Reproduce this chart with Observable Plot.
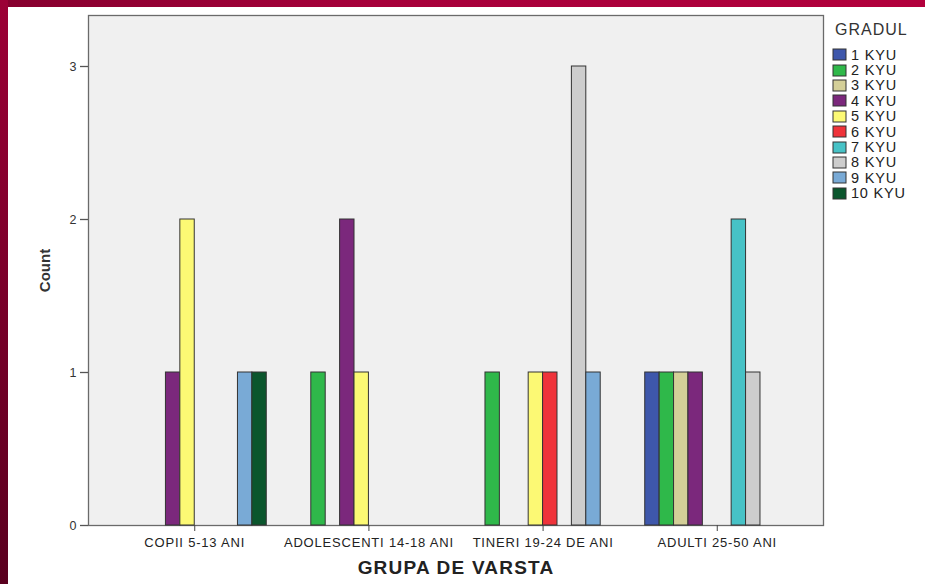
<!DOCTYPE html>
<html>
<head>
<meta charset="utf-8">
<script src="https://cdn.jsdelivr.net/npm/d3@7"></script>
<script src="https://cdn.jsdelivr.net/npm/@observablehq/plot@0.6"></script>
<style>
  html, body { margin: 0; padding: 0; background: #fff; }
  #page { position: relative; width: 925px; height: 584px; overflow: hidden; background: #fff;
          font-family: "Liberation Sans", Arial, sans-serif; }
  #bandTop { position: absolute; left: 0; top: 0; width: 925px; height: 7px;
             background: linear-gradient(to right, #86002e, #a6003a 40%, #b2003c); }
  #bandLeft { position: absolute; left: 0; top: 0; width: 8px; height: 584px;
              background: linear-gradient(to bottom, #9c0036, #7a002a 50%, #5a001f); }
  #chart { position: absolute; left: 0; top: 0; }
  #legend { position: absolute; left: 833px; top: 20px; color: #222; }
  #legendTitle { font-size: 16px; letter-spacing: 1px; color: #333; margin: 0 0 7px 2px; line-height: 20px; }
  .lg-swatches { font-family: "Liberation Sans", Arial, sans-serif !important; font-size: 14.5px !important;
                 margin: 0 !important; min-height: 0 !important; }
  .lg-swatches .lg-swatch { height: 15.4px !important; padding: 0 !important; margin: 0 !important; }
  .lg-swatches .lg-swatch svg { margin-right: 5px !important; overflow: visible; }
  .lg-swatches .lg-swatch svg rect { stroke: #333; stroke-width: 1px; }
  .lg-swatches .lg-swatch-label, .lg-swatches .lg-swatch { letter-spacing: 0.8px; color: #222; }
  g[aria-label="x-axis tick label"] text { letter-spacing: 0.8px; }
  g[aria-label="x-axis label"] text { font-weight: bold; font-size: 19px; letter-spacing: 1.2px; }
  g[aria-label="y-axis label"] text { font-weight: bold; font-size: 15px; }
</style>
</head>
<body>
<div id="page">
  <div id="bandTop"></div>
  <div id="bandLeft"></div>
  <div id="chart"></div>
  <div id="legend"><div id="legendTitle">GRADUL</div><div id="swatches"></div></div>
</div>
<script>
// Categories
const groups = ["COPII 5-13 ANI", "ADOLESCENTI 14-18 ANI", "TINERI 19-24 DE ANI", "ADULTI 25-50 ANI"];
const levels = ["1 KYU", "2 KYU", "3 KYU", "4 KYU", "5 KYU", "6 KYU", "7 KYU", "8 KYU", "9 KYU", "10 KYU"];
const levelColors = ["#3e57ab", "#2fb84a", "#d4cf98", "#7b287c", "#fcf974", "#ef333a", "#47c2c6", "#cdcdcd", "#79aad6", "#0b562d"];
// Counts per KYU level (1..10) for each age group
const copii       = [0, 0, 0, 1, 2, 0, 0, 0, 1, 1];
const adolescenti = [0, 1, 0, 2, 1, 0, 0, 0, 0, 0];
const tineri      = [0, 1, 0, 0, 1, 1, 0, 3, 1, 0];
const adulti      = [1, 1, 1, 1, 0, 0, 2, 1, 0, 0];
const yTicks = [0, 1, 2, 3];

// Layout of the grouped bars (in units of one group step)
const groupPad = 0.11;      // outer padding at both ends of the category axis
const clusterWidth = 0.827; // share of a group step occupied by the 10 bar slots
const slot = clusterWidth / levels.length;

const series = [copii, adolescenti, tineri, adulti];
const data = [];
groups.forEach((g, gi) => {
  levels.forEach((k, ki) => {
    const c = series[gi][ki];
    if (c > 0) data.push({group: g, gi, kyu: k, ki, count: c});
  });
});

const chart = Plot.plot({
  width: 925,
  height: 584,
  marginLeft: 88,
  marginRight: 102,
  marginTop: 15,
  marginBottom: 59,
  style: {background: "transparent", fontFamily: "Liberation Sans, Arial, sans-serif", fontSize: "12px", color: "#222", overflow: "visible"},
  x: {domain: [-0.5 - groupPad, groups.length - 0.5 + groupPad], axis: null},
  y: {domain: [0, 10 / 3], axis: null},
  color: {domain: levels, range: levelColors},
  marks: [
    Plot.frame({fill: "#f0f0f0", stroke: "#6a6a6a", strokeWidth: 1.3}),
    Plot.rectY(data, {
      x1: d => d.gi - clusterWidth / 2 + d.ki * slot,
      x2: d => d.gi - clusterWidth / 2 + (d.ki + 1) * slot,
      y1: 0, y2: "count",
      fill: "kyu", stroke: "#333", strokeWidth: 1
    }),
    Plot.axisY({ticks: yTicks, tickSize: 8, tickPadding: 4, tickFormat: d3.format("d"),
                fontSize: 12.5, stroke: "#555", strokeWidth: 1.3, fill: "#333",
                label: "Count", labelAnchor: "center", labelOffset: 49, labelArrow: false}),
    Plot.axisX({ticks: d3.range(groups.length), tickFormat: i => groups[i],
                tickSize: 6, tickPadding: 6, fontSize: 13, stroke: "#444", fill: "#222",
                label: "GRUPA DE VARSTA", labelAnchor: "center", labelOffset: 48, labelArrow: false})
  ]
});
document.getElementById("chart").appendChild(chart);

const legend = Plot.legend({
  color: {domain: levels, range: levelColors},
  legend: "swatches",
  columns: 1,
  swatchWidth: 13,
  swatchHeight: 11,
  className: "lg"
});
document.getElementById("swatches").appendChild(legend);
</script>
</body>
</html>
